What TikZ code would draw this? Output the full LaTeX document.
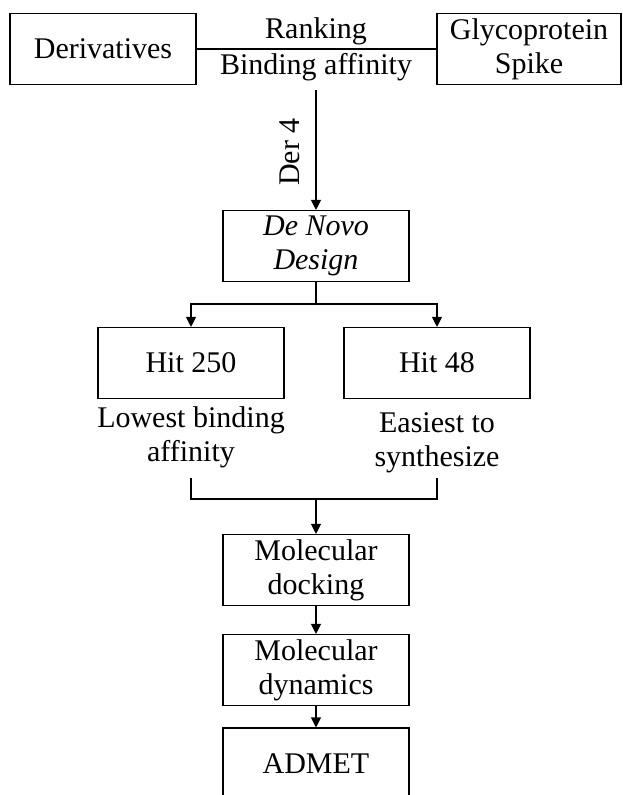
\documentclass[tikz,border=0pt]{standalone}
\usepackage{fontspec}
\setmainfont{Liberation Serif}
\usetikzlibrary{arrows.meta}
\begin{document}
\begin{tikzpicture}[x=1pt,y=-1pt,
  every node/.style={font=\fontsize{30}{34}\selectfont, inner sep=0pt, align=center},
  box/.style={draw, line width=1.1pt, minimum width=186pt, minimum height=71pt},
  conn/.style={line width=1.1pt},
  arr/.style={conn, -{Triangle[length=10pt,width=10pt]}}]
\fill[white] (0,0) rectangle (622,795);
\useasboundingbox (0,0) rectangle (622,795);
% top row
\node[box] (der) at (103,49) {Derivatives};
\node[box, minimum width=184pt] (gly) at (529,49) {Glycoprotein\\Spike};
\draw[conn] (der.east) -- (gly.west);
\node[anchor=base] (rank) at (316,38) {Ranking};
\node[anchor=base] (bind) at (316,74) {Binding affinity};
\coordinate (start) at (316,90);
% de novo
\node[box] (nov) at (316,246) {\itshape De Novo\\\itshape Design};
\draw[arr] (start) -- (nov.north);
\node[rotate=90] (der4) at (290,152) {Der 4};
% split
\coordinate (split) at (316,304);
\node[box] (hit1) at (191,363) {Hit 250};
\node[box] (hit2) at (437,363) {Hit 48};
\draw[conn] (nov.south) -- (split);
\draw[arr] (split) -| (hit1.north);
\draw[arr] (split) -| (hit2.north);
\node (low) at (191,437) {Lowest binding\\affinity};
\node (easy) at (437,443) {Easiest to\\synthesize};
% merge
\coordinate (b1) at (191,478);
\coordinate (b2) at (437,478);
\coordinate (merge) at (316,499);
\draw[conn] (b1) |- (merge) -| (b2);
\node[box] (dock) at (316,570) {Molecular\\docking};
\node[box] (dyn) at (316,670) {Molecular\\dynamics};
\node[box, minimum height=72pt] (adm) at (316,764) {ADMET};
\draw[arr] (merge) -- (dock.north);
\draw[arr] (dock.south) -- (dyn.north);
\draw[arr] (dyn.south) -- (adm.north);
\end{tikzpicture}
\end{document}
